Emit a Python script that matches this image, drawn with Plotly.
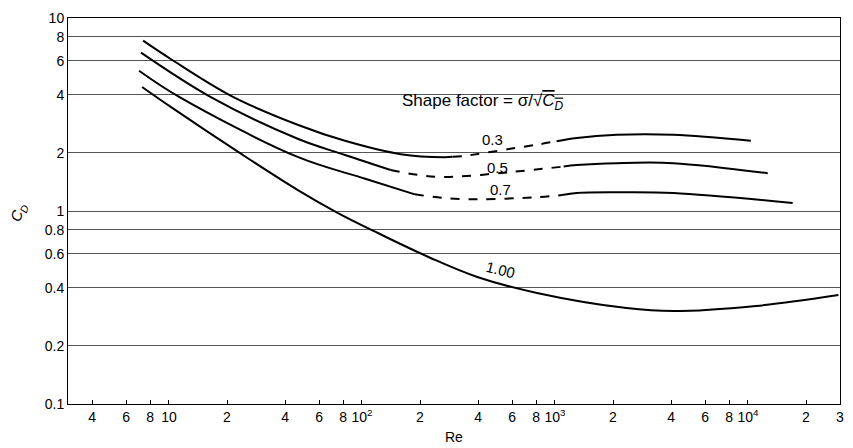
import numpy as np
import plotly.graph_objects as go

# ---- data (Re, C_D) ----
sf03_solid1_re = [7.35, 10.4, 21.1, 46.8, 81.7, 159, 268, 295]
sf03_solid1_cd = [7.63, 6.06, 3.94, 2.79, 2.31, 1.97, 1.90, 1.91]
sf03_dash_re = [295, 340, 586, 837, 1020]
sf03_dash_cd = [1.91, 1.93, 2.10, 2.22, 2.30]
sf03_solid2_re = [1020, 1298, 2088, 4106, 10360]
sf03_solid2_cd = [2.30, 2.39, 2.48, 2.48, 2.31]

sf05_solid1_re = [7.17, 16.4, 46.8, 81.7, 141]
sf05_solid1_cd = [6.61, 3.90, 2.36, 1.95, 1.63]
sf05_dash_re = [141, 194, 268, 586, 1110]
sf05_dash_cd = [1.63, 1.54, 1.50, 1.59, 1.70]
sf05_solid2_re = [1110, 1298, 2088, 4106, 12670]
sf05_solid2_cd = [1.70, 1.73, 1.77, 1.77, 1.57]

sf07_solid1_re = [7.0, 11.3, 46.8, 104, 188]
sf07_solid1_cd = [5.33, 3.90, 1.90, 1.47, 1.22]
sf07_dash_re = [188, 262, 396, 807, 1090]
sf07_dash_cd = [1.22, 1.17, 1.15, 1.18, 1.21]
sf07_solid2_re = [1090, 1298, 2088, 4106, 17060]
sf07_solid2_cd = [1.21, 1.24, 1.25, 1.24, 1.10]

sf100_re = [7.26, 10.4, 23.8, 46.8, 75.2, 121, 227, 396, 807, 2350, 4106, 11000, 29440]
sf100_cd = [4.39, 3.42, 1.97, 1.28, 0.976, 0.769, 0.571, 0.455, 0.376, 0.314, 0.303, 0.322, 0.367]

x_tickvals = [4, 6, 8, 10, 20, 40, 60, 80, 100, 200, 400, 600, 800, 1000,
              2000, 4000, 6000, 8000, 10000, 20000, 30000]
x_ticktext = ["4", "6", "8", "10", "2", "4", "6", "8", "10<sup>2</sup>", "2", "4", "6", "8",
              "10<sup>3</sup>", "2", "4", "6", "8", "10<sup>4</sup>", "2", "3"]
y_tickvals = [0.1, 0.2, 0.4, 0.6, 0.8, 1, 2, 4, 6, 8, 10]
y_ticktext = ["0.1", "0.2", "0.4", "0.6", "0.8", "1", "2", "4", "6", "8", "10"]

curve_labels = ["0.3", "0.5", "0.7", "1.00"]
label_re = [473, 502, 520, 520]
label_cd = [2.36, 1.69, 1.30, 0.50]

FONT = "Liberation Sans, Arial, sans-serif"

fig = go.Figure()

def add(x, y, dash):
    fig.add_trace(go.Scatter(
        x=x, y=y, mode="lines",
        line=dict(color="black", width=2, dash=dash, shape="spline", smoothing=1.0),
        showlegend=False, hoverinfo="skip"))

add(sf03_solid1_re, sf03_solid1_cd, "solid")
add(sf03_dash_re, sf03_dash_cd, "dash")
add(sf03_solid2_re, sf03_solid2_cd, "solid")
add(sf05_solid1_re, sf05_solid1_cd, "solid")
add(sf05_dash_re, sf05_dash_cd, "dash")
add(sf05_solid2_re, sf05_solid2_cd, "solid")
add(sf07_solid1_re, sf07_solid1_cd, "solid")
add(sf07_dash_re, sf07_dash_cd, "dash")
add(sf07_solid2_re, sf07_solid2_cd, "solid")
add(sf100_re, sf100_cd, "solid")

annotations = []
for t, rx, cy in zip(curve_labels, label_re, label_cd):
    annotations.append(dict(
        x=np.log10(rx), y=np.log10(cy), xref="x", yref="y", text=t, showarrow=False,
        font=dict(size=15, color="black", family=FONT),
        textangle=14 if t == "1.00" else 0))

annotations.append(dict(
    x=np.log10(157), y=np.log10(3.67), xref="x", yref="y", xanchor="left",
    text="Shape factor = σ/√<span style='text-decoration:overline'><i>C<sub>D</sub></i></span>",
    showarrow=False, font=dict(size=17, color="black", family=FONT)))

annotations.append(dict(
    x=-0.064, y=0.497, xref="paper", yref="paper", xanchor="center", yanchor="middle",
    text="<i>C<sub>D</sub></i>",
    showarrow=False, textangle=-70, font=dict(size=15, color="black", family=FONT)))
annotations.append(dict(
    x=0.5, y=-0.085, xref="paper", yref="paper", xanchor="center", yanchor="middle",
    text="Re", showarrow=False, font=dict(size=14, color="black", family=FONT)))

fig.update_layout(
    width=853, height=448,
    margin=dict(l=68, r=9, t=18, b=44),
    paper_bgcolor="white", plot_bgcolor="white",
    font=dict(family=FONT, color="black", size=13),
    annotations=annotations,
    xaxis=dict(type="log", range=[np.log10(3), np.log10(30000)],
               tickmode="array", tickvals=x_tickvals, ticktext=x_ticktext,
               showgrid=False, zeroline=False,
               showline=True, linecolor="black", linewidth=1, mirror=True,
               ticks="inside", ticklen=4, tickcolor="black",
               tickfont=dict(size=14)),
    yaxis=dict(type="log", range=[-1, 1],
               tickmode="array", tickvals=y_tickvals, ticktext=y_ticktext,
               showgrid=True, gridcolor="#555555", gridwidth=1,
               zeroline=False,
               showline=True, linecolor="black", linewidth=1, mirror=True,
               ticks="", tickfont=dict(size=14)),
)

fig.write_html("out.html")
